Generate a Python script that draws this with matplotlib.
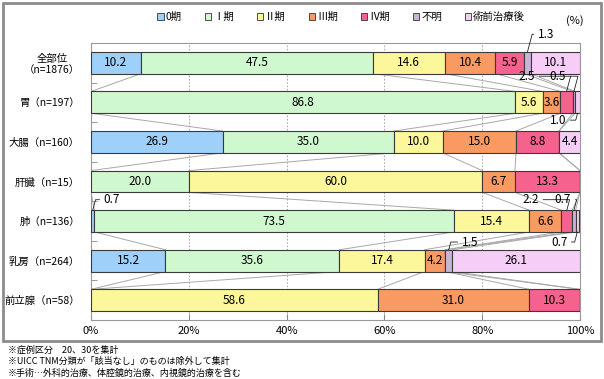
import matplotlib
matplotlib.use("Agg")
import matplotlib.pyplot as plt
import numpy as np
from matplotlib.patches import Rectangle, Patch

plt.rcParams["font.family"] = ["Noto Sans CJK JP", "DejaVu Sans"]

categories = ["全部位\n（n=1876）", "胃（n=197）", "大腸（n=160）", "肝臓（n=15）",
              "肺（n=136）", "乳房（n=264）", "前立腺（n=58）"]
series = ["0期", "Ⅰ期", "Ⅱ期", "Ⅲ期", "Ⅳ期", "不明", "術前治療後"]
stage0 = [10.2, 0.0, 26.9, 0.0, 0.7, 15.2, 0.0]
stage1 = [47.5, 86.8, 35.0, 20.0, 73.5, 35.6, 0.0]
stage2 = [14.6, 5.6, 10.0, 60.0, 15.4, 17.4, 58.6]
stage3 = [10.4, 3.6, 15.0, 6.7, 6.6, 4.2, 31.0]
stage4 = [5.9, 2.5, 8.8, 13.3, 2.2, 0.0, 10.3]
unknown = [1.3, 0.5, 0.0, 0.0, 0.7, 1.5, 0.0]
preop = [10.1, 1.0, 4.4, 0.0, 0.7, 26.1, 0.0]
colors = ["#9FD0FA", "#CFF8CF", "#FBF79A", "#F89A62", "#F5628E", "#C9B4D6", "#F6CDF6"]

values = np.array([stage0, stage1, stage2, stage3, stage4, unknown, preop])
n_cat = len(categories)
h = 0.55
min_inside = 3.0

fig = plt.figure(figsize=(6.04, 3.79), dpi=100)
ax = fig.add_axes([0.1507, 0.1557, 0.8096, 0.7309])

ypos = np.arange(n_cat)
left = np.zeros(n_cat)
cums = []
for k in range(len(series)):
    v = values[k]
    ax.barh(ypos, v, left=left, height=h, color=colors[k], edgecolor="#3a3a3a",
            linewidth=0.8, zorder=3)
    for i in range(n_cat):
        if v[i] >= min_inside:
            ax.text(left[i] + v[i] / 2, ypos[i], f"{v[i]:.1f}", ha="center",
                    va="center", fontsize=8.5, zorder=5)
    left = left + v
    cums.append(left.copy())

# series lines between neighbouring bars
for k in range(len(series) - 1):
    c = cums[k]
    for i in range(n_cat - 1):
        ax.plot([c[i], c[i + 1]], [ypos[i] + h / 2, ypos[i + 1] - h / 2],
                color="#a8a8a8", lw=0.7, zorder=2)


# small values labelled outside with leader lines
def outside(value, i, k, tx, ty, ha, above=True):
    start = cums[k][i] - values[k][i]
    x0 = start + values[k][i] / 2
    y0 = ypos[i] - h / 2 if above else ypos[i] + h / 2
    ax.annotate(f"{value:.1f}", xy=(x0, y0), xytext=(tx, ty), fontsize=8.5,
                ha=ha, va="center", zorder=6, annotation_clip=False,
                arrowprops=dict(arrowstyle="-", color="#202020", lw=0.6,
                                shrinkA=1, shrinkB=0, relpos=(0 if ha == "left" else 1, 0.5),
                                connectionstyle="angle,angleA=0,angleB=75,rad=0"))


outside(1.3, 0, 5, 91.4, -0.72, "left")
outside(2.5, 1, 4, 90.8, 0.34, "right")
outside(0.5, 1, 5, 97.2, 0.34, "right")
outside(1.0, 1, 6, 97.2, 1.45, "right", above=False)
outside(0.7, 4, 0, 2.6, 3.46, "left")
outside(2.2, 4, 4, 91.6, 3.46, "right")
outside(0.7, 4, 5, 98.2, 3.46, "right")
outside(0.7, 4, 6, 97.4, 4.53, "right", above=False)
outside(1.5, 5, 5, 75.8, 4.53, "left")

ax.set_xlim(0, 100)
ax.set_ylim(n_cat - 0.5, -0.5)
ax.set_xticks([0, 20, 40, 60, 80, 100])
ax.set_xticklabels([f"{t}%" for t in [0, 20, 40, 60, 80, 100]], fontsize=8)
ax.set_yticks(ypos)
ax.set_yticklabels(categories, fontsize=7.5, multialignment="center")
ax.set_yticks(np.arange(-0.5, n_cat, 1), minor=True)
ax.tick_params(axis="y", which="major", length=0, pad=8)
ax.tick_params(axis="y", which="minor", length=4, color="#888888", direction="in")
ax.tick_params(axis="x", length=4, color="#888888", direction="in", pad=4)
ax.grid(axis="x", color="#999999", linestyle=(0, (2, 2)), lw=0.6, zorder=0)
for s in ax.spines.values():
    s.set_color("#999999")
    s.set_linewidth(0.8)

handles = [Patch(facecolor=colors[k], edgecolor="#333333", linewidth=0.6)
           for k in range(len(series))]
fig.legend(handles, series, loc="center", bbox_to_anchor=(0.565, 0.955), ncol=7,
           frameon=False, fontsize=7.5, handlelength=0.6, handleheight=0.6,
           handletextpad=0.2, columnspacing=2.2)
fig.text(0.952, 0.945, "(%)", ha="center", va="center", fontsize=8)

fig.patches.append(Rectangle((3 / 604, 1 - 341 / 379), 598 / 604, 338 / 379,
                             transform=fig.transFigure, fill=False,
                             edgecolor="#8c8c8c", lw=2))

notes = ["※症例区分　20、30を集計",
         "※UICC TNM分類が「該当なし」のものは除外して集計",
         "※手術…外科的治療、体腔鏡的治療、内視鏡的治療を含む"]
for j, t in enumerate(notes):
    fig.text(8 / 604, 1 - (350 + 11.5 * j) / 379, t, fontsize=6.5, va="center")

fig.savefig("out.png", dpi=100)
